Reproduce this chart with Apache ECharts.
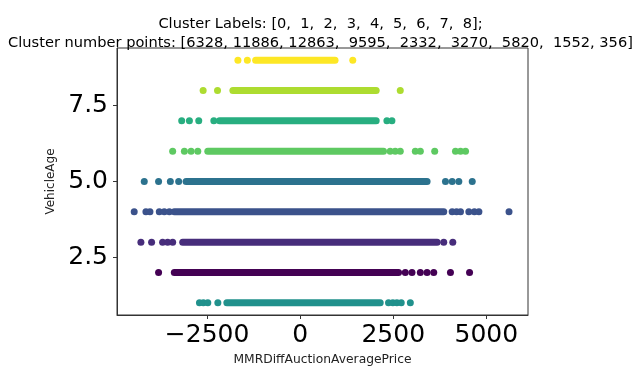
<!DOCTYPE html>
<html>
<head>
<meta charset="utf-8">
<script src="https://cdn.jsdelivr.net/npm/echarts@6/dist/echarts.min.js"></script>
<style>html,body{margin:0;padding:0;background:#fff}#c{width:641px;height:366px}</style>
</head>
<body>
<div id="c"></div>
<script>
// Cluster id -> VehicleAge row, colour (viridis), dense band extent and sparse outliers (MMRDiffAuctionAveragePrice)
const clusterLabels = [0, 1, 2, 3, 4, 5, 6, 7, 8];
const clusterCounts = [6328, 11886, 12863, 9595, 2332, 3270, 5820, 1552, 356];
const clusterAge = [2, 3, 4, 5, 1, 7, 6, 8, 9];
const clusterColors = ['#440154', '#472d7b', '#3b528b', '#2c728e', '#21918c', '#28ae80', '#5ec962', '#addc30', '#fde725'];
const bandStart = [-3380, -3155, -3380, -3064, -1969, -2166, -2481, -1807, -1196];
const bandEnd = [2643, 3679, 3857, 3409, 2150, 2042, 2239, 2042, 936];
const outliers0 = [-3803, 2824, 3004, 3228, 3408, 3588, 4037, 4550];
const outliers1 = [-4278, -3991, -3695, -3560, -3425, 3857, 4100];
const outliers2 = [-4458, -4143, -4035, -3784, -3650, -3514, 4083, 4200, 4307, 4531, 4680, 4801, 5610];
const outliers3 = [-4188, -3803, -3487, -3263, 3903, 4083, 4262, 4622];
const outliers4 = [-2705, -2600, -2481, -2211, 2373, 2490, 2598, 2715, 2959];
const outliers5 = [-3182, -2975, -2724, -2319, 2330, 2465];
const outliers6 = [-3425, -3110, -2930, -2750, 2419, 2554, 2689, 3093, 3228, 3614, 4172, 4307, 4442];
const outliers7 = [-2606, -2220, 2689];
const outliers8 = [-1672, -1419, 1413];
const outliers = [outliers0, outliers1, outliers2, outliers3, outliers4, outliers5, outliers6, outliers7, outliers8];
const xTicks = [-2500, 0, 2500, 5000];
const yTicks = [2.5, 5.0, 7.5];

const font = 'DejaVu Sans';
const series = [];
clusterLabels.forEach((c, i) => {
  const age = clusterAge[i];
  series.push({
    type: 'line', silent: true, symbol: 'none', animation: false,
    data: [[bandStart[i], age], [bandEnd[i], age]],
    lineStyle: { color: clusterColors[i], width: 7, cap: 'round' }
  });
  series.push({
    type: 'scatter', silent: true, animation: false, symbolSize: 7,
    data: outliers[i].map(x => [x, age]),
    itemStyle: { color: clusterColors[i], opacity: 1 }
  });
});

const chart = echarts.init(document.getElementById('c'), null, { renderer: 'canvas' });
chart.setOption({
  backgroundColor: '#fff',
  animation: false,
  title: {
    text: 'Cluster Labels: [' + clusterLabels.join(',  ') + '];\nCluster number points: [6328, 11886, 12863,  9595,  2332,  3270,  5820,  1552, 356]',
    left: 'center', top: 10,
    textStyle: { fontFamily: font, fontSize: 14.6, fontWeight: 'normal', color: '#000', lineHeight: 19, align: 'center' }
  },
  grid: { left: 117, right: 113, top: 48, bottom: 51, show: true, borderColor: '#333', borderWidth: 1,
    containLabel: false, outerBoundsMode: 'none' },
  xAxis: {
    type: 'value', min: -4920, max: 6120,
    splitLine: { show: false },
    axisLine: { show: true, onZero: false, lineStyle: { color: '#333', width: 1 } },
    axisTick: { show: true, length: 4, customValues: xTicks, lineStyle: { color: '#333' } },
    axisLabel: { customValues: xTicks, margin: 8, fontFamily: font, fontSize: 25, color: '#000',
      formatter: v => (v < 0 ? '\u2212' + Math.abs(v) : String(v)) },
    name: 'MMRDiffAuctionAveragePrice', nameLocation: 'middle', nameGap: 39,
    nameTextStyle: { fontFamily: font, fontSize: 12.3, color: '#222' }
  },
  yAxis: {
    type: 'value', min: 0.6, max: 9.4,
    splitLine: { show: false },
    axisLine: { show: true, onZero: false, lineStyle: { color: '#333', width: 1 } },
    axisTick: { show: true, length: 4, customValues: yTicks, lineStyle: { color: '#333' } },
    axisLabel: { customValues: yTicks, margin: 9, fontFamily: font, fontSize: 25, color: '#000',
      formatter: v => Number(v).toFixed(1) },
    name: 'VehicleAge', nameLocation: 'middle', nameGap: 60, nameRotate: 90,
    nameTextStyle: { fontFamily: font, fontSize: 12, color: '#222' }
  },
  series: series
});
</script>
</body>
</html>
